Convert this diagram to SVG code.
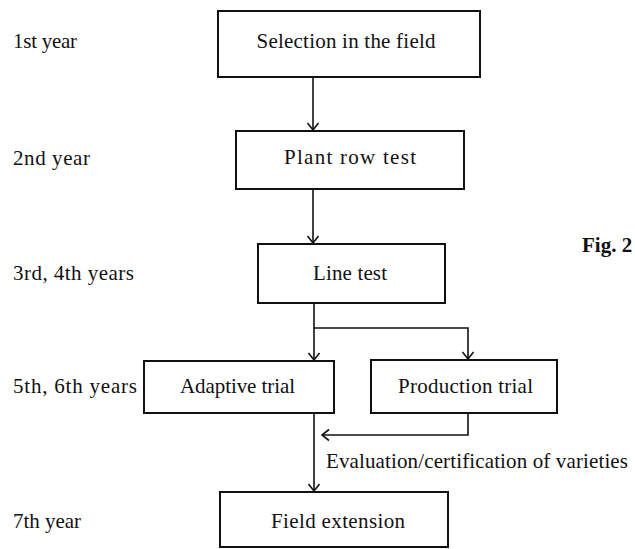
<svg xmlns="http://www.w3.org/2000/svg" width="635" height="549" viewBox="0 0 635 549">
<style>
text{font-family:"Liberation Serif","Times New Roman",serif;fill:#111;font-size:21px}
.box{fill:#fff;stroke:#111;stroke-width:2}
.lbl{text-anchor:middle}
.con{fill:none;stroke:#111;stroke-width:1.6}
</style>
<defs>
<marker id="ah" markerUnits="userSpaceOnUse" markerWidth="14" markerHeight="14" viewBox="-8 -7 10 14" refX="0" refY="0" orient="auto">
<path d="M-7,-5.5 L0,0 L-7,5.5" fill="none" stroke="#111" stroke-width="1.6"/>
</marker>
</defs>
<rect width="635" height="549" fill="#fff"/>
<g id="years">
<text x="13" y="48" textLength="64" lengthAdjust="spacing">1st year</text>
<text x="13" y="165" textLength="77" lengthAdjust="spacing">2nd year</text>
<text x="13" y="280" textLength="121" lengthAdjust="spacing">3rd, 4th years</text>
<text x="13" y="393" textLength="124" lengthAdjust="spacing">5th, 6th years</text>
<text x="13" y="528" textLength="68" lengthAdjust="spacing">7th year</text>
</g>
<g id="n1"><rect class="box" x="218" y="11" width="262" height="66"/><text class="lbl" x="346" y="48" textLength="179" lengthAdjust="spacing">Selection in the field</text></g>
<g id="n2"><rect class="box" x="236" y="131" width="228" height="58"/><text class="lbl" x="350" y="164" textLength="132" lengthAdjust="spacing">Plant row test</text></g>
<g id="n3"><rect class="box" x="258" y="244" width="187" height="59"/><text class="lbl" x="350" y="280" textLength="74" lengthAdjust="spacing">Line test</text></g>
<g id="n4"><rect class="box" x="144" y="361" width="190" height="52"/><text class="lbl" x="237.5" y="393" textLength="115" lengthAdjust="spacing">Adaptive trial</text></g>
<g id="n5"><rect class="box" x="371" y="360" width="186" height="53"/><text class="lbl" x="465.5" y="393" textLength="135" lengthAdjust="spacing">Production trial</text></g>
<g id="n6"><rect class="box" x="220" y="492" width="228" height="55"/><text class="lbl" x="338" y="528" textLength="134" lengthAdjust="spacing">Field extension</text></g>
<g id="connectors">
<line class="con" x1="313" y1="77" x2="313" y2="130" marker-end="url(#ah)"/>
<line class="con" x1="313" y1="189" x2="313" y2="243" marker-end="url(#ah)"/>
<line class="con" x1="314" y1="303" x2="314" y2="360" marker-end="url(#ah)"/>
<polyline class="con" points="314,328 468,328 468,359" marker-end="url(#ah)"/>
<line class="con" x1="314" y1="413" x2="314" y2="491" marker-end="url(#ah)"/>
<polyline class="con" points="468,413 468,435 322,435" marker-end="url(#ah)"/>
</g>
<text id="evallabel" x="326" y="468" textLength="302" lengthAdjust="spacing">Evaluation/certification of varieties</text>
<text id="fig" x="582" y="252" font-weight="bold">Fig. 2</text>
</svg>
